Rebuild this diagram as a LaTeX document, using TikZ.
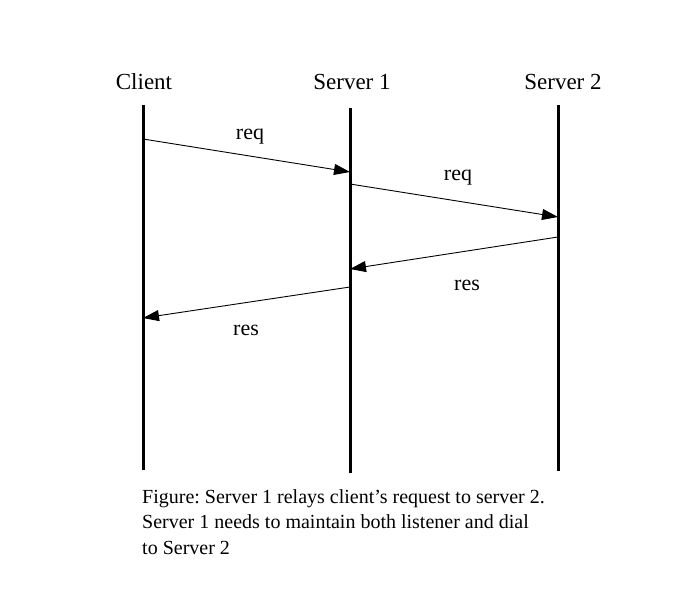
\documentclass[tikz,border=0pt]{standalone}
\usepackage{fontspec}
\setmainfont{Liberation Serif}
\usetikzlibrary{arrows.meta}
\frenchspacing
\begin{document}
\begin{tikzpicture}[x=1pt,y=-1pt,
  title/.style={font=\fontsize{23}{27}\selectfont,anchor=base,inner sep=0pt},
  msglabel/.style={font=\fontsize{22}{26}\selectfont,anchor=base,inner sep=0pt},
  lifeline/.style={line width=3pt},
  msg/.style={line width=0.9pt,-{Triangle[length=16pt,width=11pt]}},
  caption/.style={font=\fontsize{20}{25.5}\selectfont,anchor=base west,inner sep=0pt,align=left}]
\useasboundingbox (0,0) rectangle (692,601);
% titles
\node[title] (client) at (144,90) {Client};
\node[title] (s1) at (352,90) {Server 1};
\node[title] (s2) at (563,90) {Server 2};
% lifeline ends
\coordinate (ct) at (143,105); \coordinate (cb) at (143,470);
\coordinate (s1t) at (350,108); \coordinate (s1b) at (350,473);
\coordinate (s2t) at (558,105); \coordinate (s2b) at (558,471);
\draw[lifeline] (ct) -- (cb);
\draw[lifeline] (s1t) -- (s1b);
\draw[lifeline] (s2t) -- (s2b);
% message end points
\coordinate (m1a) at (143,139); \coordinate (m1b) at (350,172);
\coordinate (m2a) at (350,184); \coordinate (m2b) at (558,217);
\coordinate (m3a) at (558,237); \coordinate (m3b) at (350,269);
\coordinate (m4a) at (350,287); \coordinate (m4b) at (143,318);
\draw[msg] (m1a) -- (m1b);
\draw[msg] (m2a) -- (m2b);
\draw[msg] (m3a) -- (m3b);
\draw[msg] (m4a) -- (m4b);
% labels
\node[msglabel] (l1) at (250,140) {req};
\node[msglabel] (l2) at (458,181) {req};
\node[msglabel] (l3) at (467,290) {res};
\node[msglabel] (l4) at (246,335) {res};
% caption
\node[caption] (cap) at (142,554) {Figure: Server 1 relays client’s request to server 2.\\Server 1 needs to maintain both listener and dial\\to Server 2};
\end{tikzpicture}
\end{document}
